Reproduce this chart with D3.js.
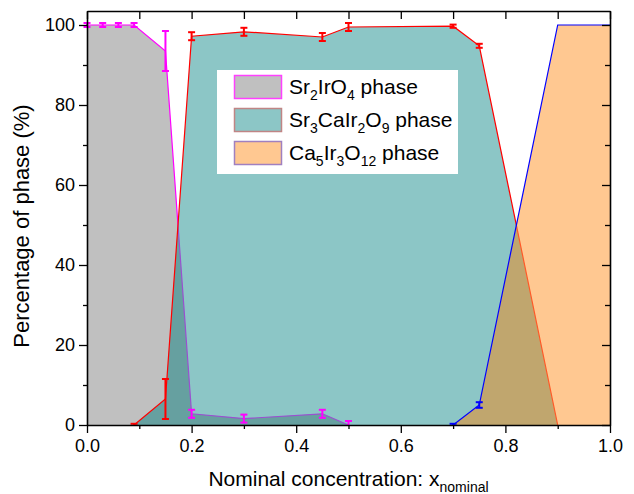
<!DOCTYPE html>
<html>
<head>
<meta charset="utf-8">
<script src="https://cdn.jsdelivr.net/npm/d3@7"></script>
<style>
  body { margin: 0; background: #fff; }
  text { font-family: "Liberation Sans", Arial, sans-serif; }
</style>
</head>
<body>
<div id="viz"></div>
<script>
// values
const srIrX   = [0, 0.03, 0.06, 0.09, 0.15, 0.2, 0.3, 0.45, 0.5];
const srIrY   = [100, 100, 100, 100, 93.5, 2.8, 1.6, 2.8, 0];
const srIrErr = [0.5, 0.5, 0.5, 0.5, 5, 1, 1, 1, 1];

const srCaX   = [0.09, 0.15, 0.2, 0.3, 0.45, 0.5, 0.7, 0.75, 0.9];
const srCaY   = [0, 6.5, 97.2, 98.3, 97, 99.5, 99.7, 94.8, 0];
const srCaErr = [0.3, 5, 1, 1, 1, 1, 0.4, 0.5, 0];

const caIrX   = [0.7, 0.75, 0.9, 1.0];
const caIrY   = [0, 5, 100, 100];
const caIrErr = [0.3, 0.7, 0, 0];

const xTicks = [0, 0.2, 0.4, 0.6, 0.8, 1.0];
const xMinor = [0.1, 0.3, 0.5, 0.7, 0.9];
const yTicks = [0, 20, 40, 60, 80, 100];
const yMinor = [10, 30, 50, 70, 90];

const width = 634, height = 494;
const margin = { left: 87, right: 24, top: 11, bottom: 69 };

const svg = d3.select("#viz")
              .append("svg")
              .attr("width", width)
              .attr("height", height);

const x = d3.scaleLinear().domain([0, 1]).range([margin.left, width - margin.right]);
const y = d3.scaleLinear().domain([0, 103.5]).range([height - margin.bottom, margin.top]);

const toPts = (xs, ys, es) => xs.map((v, i) => ({ x: v, y: ys[i], e: es[i] }));
const grayPts = toPts(srIrX, srIrY, srIrErr);
const tealPts = toPts(srCaX, srCaY, srCaErr);
const orangePts = toPts(caIrX, caIrY, caIrErr);

const area = d3.area().x(d => x(d.x)).y0(y(0)).y1(d => y(d.y));
const line = d3.line().x(d => x(d.x)).y(d => y(d.y));

const defs = svg.append("defs");
defs.append("clipPath").attr("id", "clipTeal")
    .append("path").attr("d", area(tealPts));
defs.append("clipPath").attr("id", "clipOrange")
    .append("path").attr("d", area(orangePts));

// Sr2IrO4 fill and line
svg.append("path").attr("d", area(grayPts)).attr("fill", "#c0c0c0");
svg.append("path").attr("d", line(grayPts)).attr("fill", "none")
   .attr("stroke", "#ff00ff").attr("stroke-width", 1.2);

// Sr3CaIr2O9 fill, overlap with gray
svg.append("path").attr("d", area(tealPts)).attr("fill", "#8cc6c6");
svg.append("path").attr("d", area(grayPts)).attr("fill", "#66a0a0")
   .attr("clip-path", "url(#clipTeal)");
svg.append("path").attr("d", line(grayPts)).attr("fill", "none")
   .attr("stroke", "#9a50d0").attr("stroke-width", 1.2)
   .attr("clip-path", "url(#clipTeal)");
svg.append("path").attr("d", line(tealPts)).attr("fill", "none")
   .attr("stroke", "#ff0000").attr("stroke-width", 1.2);

// Ca5Ir3O12 fill, overlap with teal
svg.append("path").attr("d", area(orangePts)).attr("fill", "#ffc891");
svg.append("path").attr("d", area(orangePts)).attr("fill", "#c0a66e")
   .attr("clip-path", "url(#clipTeal)");
svg.append("path").attr("d", line(tealPts)).attr("fill", "none")
   .attr("stroke", "#ff5a28").attr("stroke-width", 1.2)
   .attr("clip-path", "url(#clipOrange)");
svg.append("path").attr("d", line(orangePts)).attr("fill", "none")
   .attr("stroke", "#0000ff").attr("stroke-width", 1.2);

// error bars
function errorBars(pts, color) {
    const g = svg.append("g").attr("stroke", color).attr("stroke-width", 2);
    pts.filter(d => d.e > 0).forEach(d => {
        const cx = x(d.x), y1 = y(d.y + d.e), y2 = y(Math.max(0, d.y - d.e));
        g.append("line").attr("x1", cx).attr("x2", cx).attr("y1", y1).attr("y2", d.y - d.e < 0 ? y(d.y) : y2);
        g.append("line").attr("x1", cx - 3.5).attr("x2", cx + 3.5).attr("y1", y1).attr("y2", y1);
        if (d.y - d.e >= 0)
            g.append("line").attr("x1", cx - 3.5).attr("x2", cx + 3.5).attr("y1", y2).attr("y2", y2);
    });
}
errorBars(grayPts, "#ff00ff");
errorBars(tealPts, "#ff0000");
errorBars(orangePts, "#0000ff");

// axes
const tickFont = 18;
svg.append("g").attr("transform", `translate(0,${y(0)})`)
   .call(d3.axisBottom(x).tickValues(xMinor).tickSize(4).tickFormat(""))
   .call(g => g.select(".domain").remove());
svg.append("g").attr("transform", `translate(0,${y(0)})`)
   .call(d3.axisBottom(x).tickValues(xTicks).tickSize(8).tickSizeOuter(0).tickPadding(6).tickFormat(d3.format(".1f")))
   .call(g => g.selectAll("text").attr("font-size", tickFont).attr("fill", "#000"));

svg.append("g").attr("transform", `translate(${x(0)},0)`)
   .call(d3.axisLeft(y).tickValues(yMinor).tickSize(4).tickFormat(""))
   .call(g => g.select(".domain").remove());
svg.append("g").attr("transform", `translate(${x(0)},0)`)
   .call(d3.axisLeft(y).tickValues(yTicks).tickSize(8).tickSizeOuter(0).tickPadding(4).tickFormat(d3.format("d")))
   .call(g => g.selectAll("text").attr("font-size", tickFont).attr("fill", "#000"));

// top and right frame with inward ticks
svg.append("g").attr("transform", `translate(0,${y.range()[1]})`)
   .call(d3.axisBottom(x).tickValues(xTicks.concat(xMinor)).tickSize(8).tickSizeOuter(0).tickFormat(""));
svg.append("g").attr("transform", `translate(${x(1)},0)`)
   .call(d3.axisLeft(y).tickValues(yTicks).tickSize(8).tickSizeOuter(0).tickFormat(""));
svg.append("g").attr("transform", `translate(${x(1)},0)`)
   .call(d3.axisLeft(y).tickValues(yMinor).tickSize(5).tickFormat(""))
   .call(g => g.select(".domain").remove());

svg.selectAll(".domain").attr("stroke-width", 1.6);
svg.selectAll(".tick line").attr("stroke-width", 1.3);

// axis titles
const xt = svg.append("text")
   .attr("x", (x(0) + x(1)) / 2).attr("y", 486)
   .attr("text-anchor", "middle").attr("font-size", 21);
xt.append("tspan").text("Nominal concentration: x");
xt.append("tspan").attr("font-size", 14).attr("dy", 6).text("nominal");

svg.append("text")
   .attr("transform", `translate(29,${(y(0) + y(103.5)) / 2 + 8}) rotate(-90)`)
   .attr("text-anchor", "middle").attr("font-size", 22)
   .text("Percentage of phase (%)");

// legend
const legendRows = [
    { parts: [["Sr", 0], ["2", 1], ["IrO", 0], ["4", 1], [" phase", 0]], fill: "#c0c0c0", stroke: "#ff40ff" },
    { parts: [["Sr", 0], ["3", 1], ["CaIr", 0], ["2", 1], ["O", 0], ["9", 1], [" phase", 0]], fill: "#8cc6c6", stroke: "#c08585" },
    { parts: [["Ca", 0], ["5", 1], ["Ir", 0], ["3", 1], ["O", 0], ["12", 1], [" phase", 0]], fill: "#ffc891", stroke: "#a080c0" }
];
svg.append("rect").attr("x", 217).attr("y", 70).attr("width", 241).attr("height", 104).attr("fill", "#fff");
legendRows.forEach((r, i) => {
    const top = 75 + i * 33;
    svg.append("rect").attr("x", 234.5).attr("y", top + 0.5).attr("width", 47).attr("height", 23)
       .attr("fill", r.fill).attr("stroke", r.stroke).attr("stroke-width", 1.5);
    const t = svg.append("text").attr("x", 289).attr("y", top + 19).attr("font-size", 21);
    let sub = 0;
    r.parts.forEach(([s, isSub]) => {
        const ts = t.append("tspan").text(s);
        if (isSub) ts.attr("font-size", 14);
        const dy = isSub && !sub ? 6 : (!isSub && sub ? -6 : 0);
        if (dy) ts.attr("dy", dy);
        sub = isSub;
    });
});
</script>
</body>
</html>
